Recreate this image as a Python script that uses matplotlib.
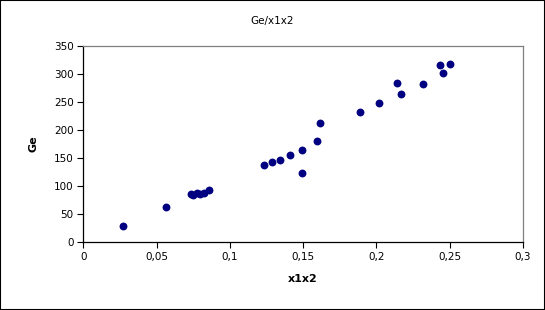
import matplotlib
matplotlib.use("Agg")
import matplotlib.pyplot as plt
from matplotlib.ticker import FuncFormatter, MultipleLocator
from matplotlib.patches import Rectangle

x1x2 = [0.0269, 0.0562, 0.0733, 0.0751, 0.0778, 0.0796, 0.0823, 0.0859,
        0.1233, 0.1289, 0.1344, 0.1410, 0.1494, 0.1490, 0.1594, 0.1617,
        0.1885, 0.2019, 0.2140, 0.2169, 0.2319, 0.2431, 0.2454, 0.2501]
Ge = [28.6, 62, 86, 84, 87, 86, 88, 92,
      138, 142, 146, 155, 164, 123, 180, 212.5,
      231.6, 247.6, 284.5, 265, 281.5, 316, 302, 318]

title = "Ge/x1x2"
xlabel = "x1x2"
ylabel = "Ge"

fig = plt.figure(figsize=(5.45, 3.10), dpi=100)
ax = fig.add_axes([0.1528, 0.2194, 0.8068, 0.6322])
ax.scatter(x1x2, Ge, s=32, color="#000080", zorder=3, linewidths=0)
ax.set_xlim(0, 0.3)
ax.set_ylim(0, 350)
ax.xaxis.set_major_locator(MultipleLocator(0.05))
ax.yaxis.set_major_locator(MultipleLocator(50))
fmt = FuncFormatter(lambda v, p: ("%g" % round(v, 4)).replace(".", ","))
ax.xaxis.set_major_formatter(fmt)
ax.tick_params(direction="out", length=4, width=0.8, labelsize=7.5, colors="black", pad=3)
for s in ["top", "right"]:
    ax.spines[s].set_color("#808080")
for s in ["left", "bottom"]:
    ax.spines[s].set_color("black")
for s in ax.spines.values():
    s.set_linewidth(0.9)
ax.set_xlabel(xlabel, fontsize=8, fontweight="bold", labelpad=9)
ax.set_ylabel(ylabel, fontsize=8, fontweight="bold", labelpad=11)
fig.text(0.5, 0.932, title, ha="center", va="center", fontsize=7.5)
fig.patches.append(Rectangle((0, 0), 1, 1, transform=fig.transFigure, fill=False,
                             edgecolor="black", linewidth=1.5))
fig.savefig("out.png", dpi=100)
